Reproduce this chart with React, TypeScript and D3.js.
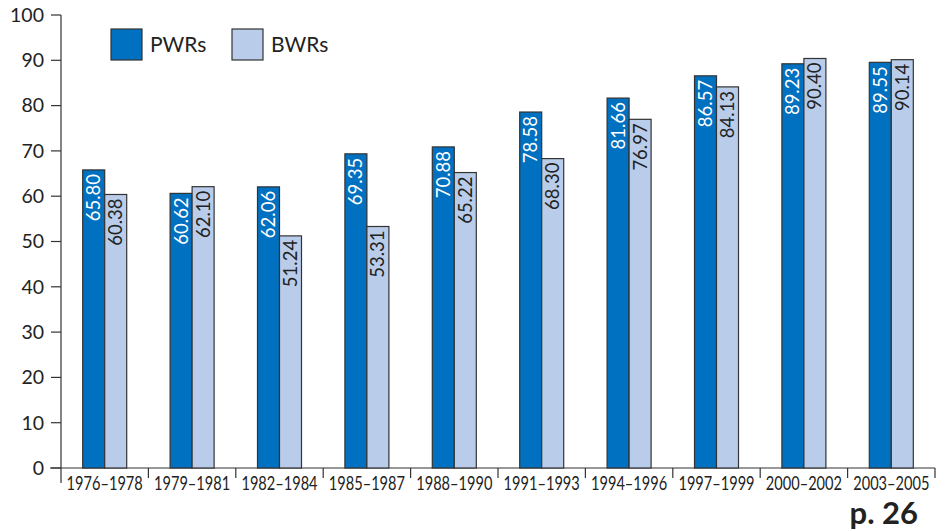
import React from "react";
import * as d3 from "d3";

const categories = ["1976–1978","1979–1981","1982–1984","1985–1987","1988–1990","1991–1993","1994–1996","1997–1999","2000–2002","2003–2005"];
const pwr = [65.80,60.62,62.06,69.35,70.88,78.58,81.66,86.57,89.23,89.55];
const bwr = [60.38,62.10,51.24,53.31,65.22,68.30,76.97,84.13,90.40,90.14];
const yTicks = [0,10,20,30,40,50,60,70,80,90,100];
const seriesNames = ["PWRs","BWRs"];
const colors = ["#0070C0","#B9CDEA"];

const W = 945, H = 531;
const x0 = 61, x1 = 935, yTop = 15, yBot = 468;
const font = "Lato, 'Open Sans', sans-serif";

export default function App() {
  const x = d3.scaleBand().domain(categories).range([x0, x1]).padding(0);
  const y = d3.scaleLinear().domain([0, 100]).range([yBot, yTop]);
  const barW = 22;
  const series = [pwr, bwr];
  return (
    <svg width={W} height={H} style={{ position: "absolute", left: 0, top: 0, background: "#fff" }}>
      {/* y axis */}
      <line x1={x0} x2={x0} y1={yTop} y2={483} stroke="#333" strokeWidth={1.2} />
      {yTicks.map(t => (
        <g key={t}>
          <line x1={51} x2={x0} y1={y(t)} y2={y(t)} stroke="#333" strokeWidth={1.2} />
          <text x={44} y={y(t)} dy="0.35em" textAnchor="end" fontFamily={font} fontSize={19.5} fill="#222">{t}</text>
        </g>
      ))}
      {/* x axis */}
      <line x1={50} x2={x1} y1={yBot} y2={yBot} stroke="#333" strokeWidth={1.2} />
      {categories.map((c, i) => (
        <g key={c}>
          {i > 0 && <line x1={x(c)!} x2={x(c)!} y1={yBot} y2={478} stroke="#333" strokeWidth={1.2} />}
          <text transform={`translate(${x(c)! + x.bandwidth() / 2},490) scale(0.73,1)`} textAnchor="middle" fontFamily={font} fontSize={20} fill="#222">{c}</text>
        </g>
      ))}
      <line x1={x1} x2={x1} y1={yBot} y2={478} stroke="#333" strokeWidth={1.2} />
      {/* bars */}
      {categories.map((c, i) => {
        const cx = x(c)! + x.bandwidth() / 2;
        return series.map((s, k) => {
          const bx = cx - barW + k * barW;
          const by = y(s[i]);
          const tx = bx + barW / 2;
          return (
            <g key={c + k}>
              <rect x={bx} y={by} width={barW} height={yBot - by} fill={colors[k]} stroke="#333" strokeWidth={1.2} />
              <text transform={`translate(${tx + 6.5},${by + 4}) rotate(-90)`} textAnchor="end" fontFamily={font} fontSize={18.5} fill={k === 0 ? "#fff" : "#222"}>{s[i].toFixed(2)}</text>
            </g>
          );
        });
      })}
      {/* legend */}
      {seriesNames.map((n, k) => (
        <g key={n}>
          <rect x={111 + k * 121} y={29} width={31} height={31} fill={colors[k]} stroke="#333" strokeWidth={1.2} />
          <text x={150 + k * 121} y={45} dy="0.35em" fontFamily={font} fontSize={21} fill="#222">{n}</text>
        </g>
      ))}
      <text x={918} y={524} textAnchor="end" fontFamily={font} fontWeight="bold" fontSize={31} fill="#222">p. 26</text>
    </svg>
  );
}
